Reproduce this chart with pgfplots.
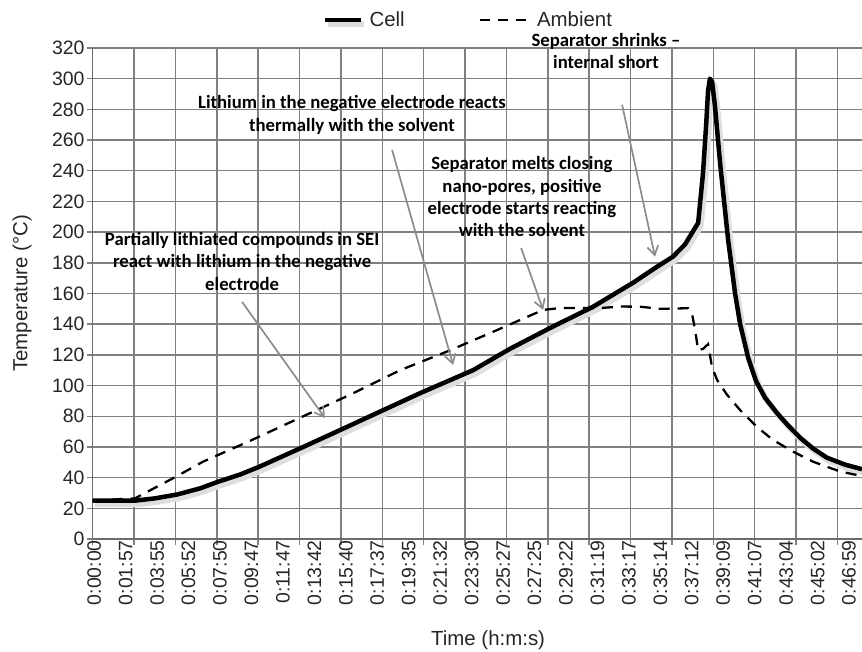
\documentclass[border=0pt]{standalone}
\usepackage{fontspec}
\setmainfont{Liberation Sans}
\newfontfamily\calib{Carlito}
\usepackage{pgfplots}
\pgfplotsset{compat=1.18}
\usetikzlibrary{arrows.meta}
\definecolor{gridc}{gray}{0.5}
\definecolor{arrowc}{gray}{0.55}
\begin{document}
\begin{tikzpicture}
\begin{axis}[
  at={(0,0)}, anchor=south west,
  scale only axis, width=769.3bp, height=491bp,
  xmin=0, xmax=2873, ymin=0, ymax=320,
  clip=false,
  axis x line*=bottom, axis y line*=left,
  axis line style={-, gridc!85!black, line width=1.5bp},
  /pgf/number format/assume math mode=true,
  ytick={0,20,...,320},
  ymajorgrids=true,
  xmajorgrids=true,
  grid style={gridc, line width=1.5bp},
  tick align=outside,
  major tick length=6bp,
  tick style={gridc, line width=1.5bp},
  xtick={0,154.5,309,463.5,618,772.5,927,1081.5,1236,1390.5,1545,1699.5,1854,2008.5,2163,2317.5,2472,2626.5,2781},
  xticklabels={},
  extra x ticks={0,117.46,234.92,352.38,469.84,587.3,704.76,822.22,939.68,1057.14,1174.6,1292.06,1409.52,1526.98,1644.44,1761.9,1879.36,1996.82,2114.28,2231.74,2349.2,2466.66,2584.12,2701.58,2819.04},
  extra x tick labels={0:00:00,0:01:57,0:03:55,0:05:52,0:07:50,0:09:47,0:11:47,0:13:42,0:15:40,0:17:37,0:19:35,0:21:32,0:23:30,0:25:27,0:27:25,0:29:22,0:31:19,0:33:17,0:35:14,0:37:12,0:39:09,0:41:07,0:43:04,0:45:02,0:46:59},
  extra x tick style={grid=none, major tick length=0pt},
  x tick label style={rotate=90, anchor=east, inner sep=1bp, yshift=-1.5bp, font=\fontsize{19.5}{20}\selectfont, text=black!85},
  y tick label style={font=\fontsize{19.5}{20}\selectfont, text=black!85, inner sep=2bp},
  xlabel={Time (h:m:s)},
  ylabel={Temperature (°C)},
  xlabel style={at={(axis description cs:0.514,-0.2057)}, anchor=center, font=\fontsize{20.5}{22}\selectfont, text=black!85},
  ylabel style={at={(axis description cs:-0.0919,0.5)}, anchor=center, font=\fontsize{20.5}{22}\selectfont, text=black!85},
  legend style={at={(axis description cs:0.4885,1.057)}, anchor=center, draw=none, fill=none,
    font=\fontsize{20.5}{22}\selectfont, text=black!85, legend columns=2,
    /tikz/every odd column/.append style={column sep=4bp},
    /tikz/every even column/.append style={column sep=72bp}},
]
\addplot[black, line width=4.5bp, line join=round,
  preaction={draw=black!13, line width=6bp, transform canvas={xshift=2.5bp,yshift=-3.5bp}},
  legend image code/.code={\draw[black, line width=4.5bp] (0bp,0bp) -- (36bp,0bp);}]
  coordinates {
  (0,25) (158,25) (233,26.5) (315,29) (401,33) (468,37.3) (550,42) (621,47)
  (774,59) (924,71) (1073,83) (1222,95) (1420,110) (1559,124) (1708,137.5)
  (1869,151.4) (2018,167) (2108,177.5) (2167,184) (2212,192) (2261,206)
  (2279,238) (2291,270) (2298,292) (2305,300) (2313,298) (2324,282)
  (2343,245) (2373,195) (2399,160) (2418,140) (2448,118) (2477,103)
  (2511,92) (2556,82) (2597,74) (2642,66) (2690,59) (2742,53) (2809,48.5) (2873,45.5)
  };
\addlegendentry{Cell}
\addplot[black, line width=2.3bp, dash pattern=on 11bp off 8bp,
  legend image code/.code={\draw[black, line width=2.3bp, dash pattern=on 10bp off 8bp] (0bp,0bp) -- (50bp,0bp);}]
  coordinates {
  (0,25) (158,26.5) (315,41) (412,50.4) (588,64) (774,79) (961,94) (1148,110)
  (1335,123) (1521,137) (1682,149.3) (1745,150.5) (1895,150.5) (1969,151.5)
  (2044,151.4) (2119,150) (2224,150.4) (2238,147) (2250,136) (2261,123)
  (2280,124) (2298,127) (2313,112) (2332,103.6) (2369,94) (2418,84)
  (2481,73) (2541,64.5) (2615,57) (2690,50.4) (2791,44) (2854,41.7) (2873,41)
  };
\addlegendentry{Ambient}
\tikzset{ann/.style={font=\calib\bfseries\fontsize{18.8}{22.5}\selectfont, align=center, inner sep=0pt},
  arr/.style={arrowc, line width=1.7bp, -{Straight Barb[length=9bp, width=11bp]}}}
\node[ann] at (axis cs:1917,318) {Separator shrinks –\\internal short};
\draw[arr] (axis cs:1977,283) -- (axis cs:2100,184);
\node[ann] at (axis cs:968,276.4) {Lithium in the negative electrode reacts\\thermally with the solvent};
\draw[arr] (axis cs:1118,253.6) -- (axis cs:1346,113.4);
\node[ann] at (axis cs:1603,223) {Separator melts closing\\nano-pores, positive\\electrode starts reacting\\with the solvent};
\draw[arr] (axis cs:1600,189.7) -- (axis cs:1682,149.3);
\node[ann] at (axis cs:558,181) {Partially lithiated compounds in SEI\\react with lithium in the negative\\electrode};
\draw[arr] (axis cs:558,154.5) -- (axis cs:867,78.9);
\end{axis}
\pgfresetboundingbox
\path (-92.7bp,-113bp) rectangle (769.3bp,539bp);
\end{tikzpicture}
\end{document}
